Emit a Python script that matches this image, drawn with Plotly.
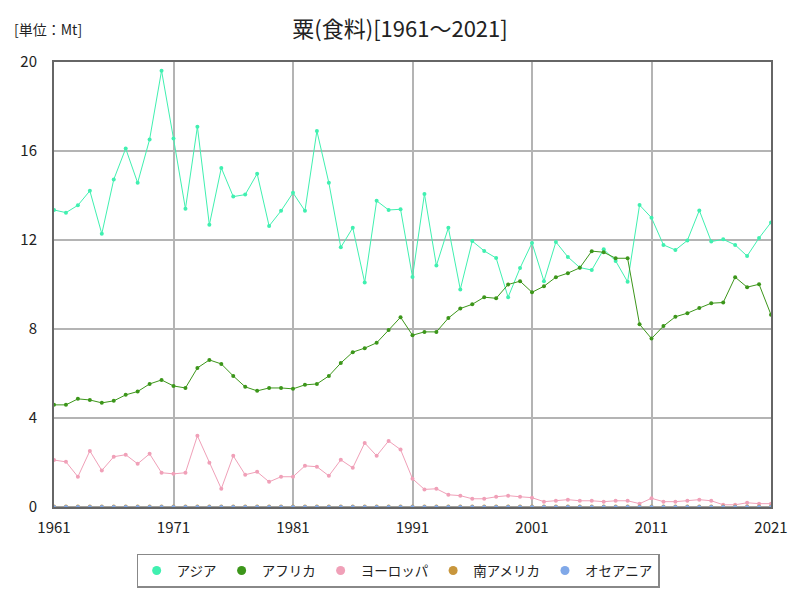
import plotly.graph_objects as go

years = list(range(1961, 2022))

asia = [13.35, 13.23, 13.56, 14.21, 12.28, 14.72, 16.11, 14.57, 16.52, 19.61,
        16.56, 13.40, 17.09, 12.68, 15.24, 13.95, 14.04, 14.98, 12.63, 13.31,
        14.12, 13.31, 16.90, 14.57, 11.67, 12.55, 10.09, 13.76, 13.35, 13.38,
        10.34, 14.07, 10.85, 12.55, 9.78, 11.95, 11.51, 11.19, 9.43, 10.74,
        11.87, 10.15, 11.91, 11.24, 10.76, 10.65, 11.58, 11.06, 10.12, 13.57,
        13.00, 11.78, 11.55, 11.98, 13.33, 11.93, 12.03, 11.78, 11.28, 12.09,
        12.79]

africa = [4.59, 4.59, 4.86, 4.81, 4.68, 4.77, 5.04, 5.19, 5.53, 5.71,
          5.44, 5.35, 6.25, 6.61, 6.43, 5.89, 5.40, 5.22, 5.35, 5.35,
          5.31, 5.49, 5.53, 5.89, 6.47, 6.96, 7.14, 7.38, 7.95, 8.53,
          7.72, 7.87, 7.87, 8.49, 8.92, 9.11, 9.43, 9.38, 10.00, 10.15,
          9.65, 9.92, 10.33, 10.51, 10.75, 11.50, 11.45, 11.18, 11.18, 8.21,
          7.57, 8.13, 8.55, 8.71, 8.94, 9.16, 9.19, 10.33, 9.88, 10.01,
          8.64]

europe = [2.11, 2.03, 1.36, 2.52, 1.64, 2.26, 2.35, 1.94, 2.39, 1.54,
          1.49, 1.54, 3.20, 1.99, 0.82, 2.30, 1.45, 1.58, 1.13, 1.36,
          1.36, 1.85, 1.81, 1.40, 2.12, 1.76, 2.88, 2.30, 2.97, 2.58,
          1.27, 0.79, 0.82, 0.55, 0.51, 0.37, 0.37, 0.46, 0.51, 0.46,
          0.42, 0.24, 0.28, 0.33, 0.28, 0.28, 0.24, 0.28, 0.28, 0.15,
          0.39, 0.24, 0.24, 0.28, 0.33, 0.28, 0.10, 0.10, 0.19, 0.15,
          0.15]

south_america = [0.02] * 61

oceania = [0.002] * 61

series = [
    ("アジア", asia, "#40f0b0"),
    ("アフリカ", africa, "#3c961a"),
    ("ヨーロッパ", europe, "#f0a0b8"),
    ("南アメリカ", south_america, "#c8963c"),
    ("オセアニア", oceania, "#80a8e8"),
]

FONT = "Noto Sans CJK JP"

fig = go.Figure()
for name, vals, color in series:
    fig.add_trace(go.Scatter(
        x=years, y=vals, name=name, mode="lines+markers",
        line=dict(color=color, width=1),
        marker=dict(color=color, size=4),
        showlegend=False, legendgroup=name,
    ))
# legend entries: marker-only symbols, as in the reference
for name, vals, color in series:
    fig.add_trace(go.Scatter(
        x=[None], y=[None], name=name, mode="markers",
        marker=dict(color=color, size=9), legendgroup=name, showlegend=True,
    ))

fig.update_layout(
    width=800, height=600,
    margin=dict(l=54, r=27, t=62, b=91),
    paper_bgcolor="white", plot_bgcolor="white",
    font=dict(family=FONT, size=14, color="#222"),
    title=dict(text="粟(食料)[1961～2021]", x=0.5, xanchor="center",
               y=0.952, yanchor="middle", font=dict(size=22, family=FONT, color="#222")),
    showlegend=True,
    legend=dict(orientation="h", x=0.48, xanchor="center", y=-0.105, yanchor="top",
                bordercolor="#888", borderwidth=1.5, font=dict(size=13.5, family=FONT),
                itemwidth=30, tracegroupgap=0),
    annotations=[dict(text="[単位：Mt]", xref="paper", yref="paper", x=-0.058, y=1.075,
                      xanchor="left", yanchor="middle", showarrow=False,
                      font=dict(size=14, family=FONT, color="#222"))],
)

fig.update_xaxes(range=[1961, 2021], tickvals=list(range(1961, 2022, 10)),
                 showgrid=True, gridcolor="#b4b4b4", gridwidth=1.5,
                 showline=True, linecolor="#666", linewidth=2, mirror=True,
                 ticks="", zeroline=False, tickfont=dict(size=15),
                 ticklabelstandoff=6)
fig.update_yaxes(range=[0, 20], tickvals=[0, 4, 8, 12, 16, 20],
                 showgrid=True, gridcolor="#b4b4b4", gridwidth=1.5,
                 showline=True, linecolor="#666", linewidth=2, mirror=True,
                 ticks="", zeroline=False, tickfont=dict(size=15),
                 ticklabelstandoff=12)

fig.write_html("out.html")
